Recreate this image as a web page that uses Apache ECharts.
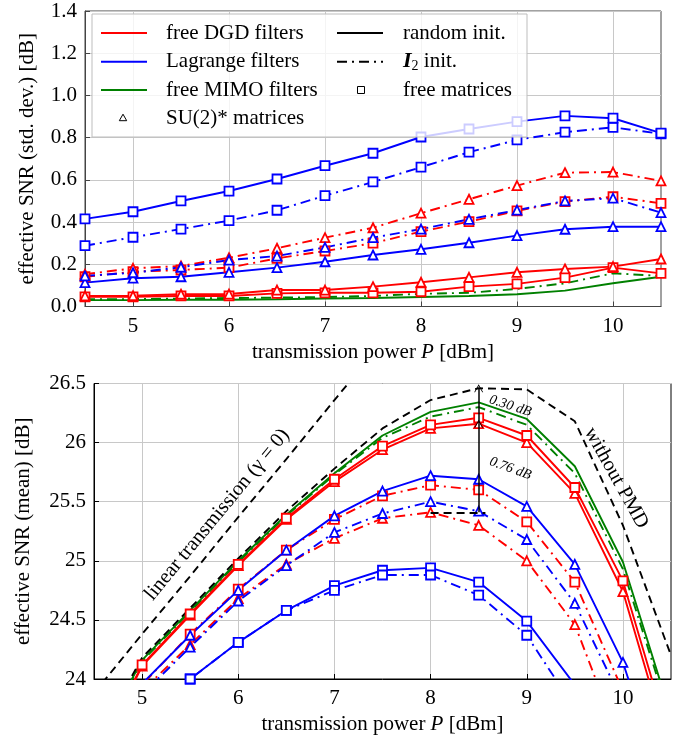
<!DOCTYPE html>
<html><head><meta charset="utf-8">
<script src="https://cdn.jsdelivr.net/npm/echarts@6/dist/echarts.min.js"></script>
<style>html,body{margin:0;padding:0;background:#fff}#c{width:688px;height:739px}</style>
</head><body><div id="c"></div>
<script>
// ---------- data ----------
const powerDbm = [4.5, 5, 5.5, 6, 6.5, 7, 7.5, 8, 8.5, 9, 9.5, 10, 10.5];
const xTickValues = [5, 6, 7, 8, 9, 10];

// upper panel: effective SNR std. dev. [dB]
const sdLagRandFree = [0.415, 0.449, 0.500, 0.547, 0.604, 0.667, 0.726, 0.803, 0.841, 0.876, 0.903, 0.892, 0.821];
const sdLagI2Free   = [0.288, 0.328, 0.367, 0.407, 0.456, 0.525, 0.590, 0.660, 0.731, 0.789, 0.826, 0.849, 0.818];
const sdDgdI2SU2    = [0.153, 0.181, 0.192, 0.231, 0.276, 0.326, 0.373, 0.442, 0.508, 0.573, 0.634, 0.637, 0.595];
const sdLagI2SU2    = [0.145, 0.160, 0.186, 0.220, 0.239, 0.280, 0.326, 0.367, 0.413, 0.457, 0.500, 0.513, 0.445];
const sdDgdI2Free   = [0.141, 0.165, 0.173, 0.184, 0.228, 0.263, 0.300, 0.355, 0.402, 0.453, 0.497, 0.520, 0.489];
const sdLagRandSU2  = [0.113, 0.134, 0.141, 0.162, 0.184, 0.212, 0.244, 0.271, 0.302, 0.336, 0.366, 0.378, 0.378];
const sdDgdRandSU2  = [0.050, 0.051, 0.058, 0.059, 0.078, 0.078, 0.094, 0.115, 0.138, 0.162, 0.178, 0.189, 0.225];
const sdDgdRandFree = [0.046, 0.046, 0.050, 0.050, 0.062, 0.065, 0.065, 0.070, 0.094, 0.107, 0.137, 0.184, 0.157];
const sdMimoRand    = [0.030, 0.030, 0.032, 0.032, 0.034, 0.038, 0.040, 0.045, 0.050, 0.058, 0.075, 0.110, 0.141];
const sdMimoI2      = [0.035, 0.035, 0.038, 0.040, 0.042, 0.045, 0.050, 0.060, 0.065, 0.083, 0.110, 0.157, 0.145];

// lower panel: effective SNR mean [dB]
const mnDgdRandFree = [23.30, 24.12, 24.55, 24.97, 25.36, 25.69, 25.97, 26.15, 26.21, 26.06, 25.62, 24.83, 23.45];
const mnDgdRandSU2  = [23.28, 24.11, 24.54, 24.96, 25.35, 25.67, 25.94, 26.12, 26.16, 26.00, 25.57, 24.74, 23.35];
const mnMimoRand    = [23.40, 24.16, 24.58, 25.00, 25.39, 25.74, 26.06, 26.26, 26.34, 26.20, 25.80, 24.99, 23.69];
const mnMimoI2      = [23.40, 24.15, 24.57, 24.99, 25.38, 25.73, 26.04, 26.22, 26.30, 26.15, 25.74, 24.93, 23.65];
const mnLagRandSU2  = [23.20, 23.96, 24.37, 24.75, 25.09, 25.38, 25.59, 25.72, 25.69, 25.46, 24.97, 24.14, 22.90];
const mnLagI2SU2    = [23.10, 23.87, 24.27, 24.66, 24.96, 25.24, 25.40, 25.50, 25.42, 25.18, 24.64, 23.80, 22.80];
const mnDgdI2SU2    = [23.10, 23.90, 24.29, 24.68, 24.97, 25.19, 25.36, 25.41, 25.30, 25.00, 24.46, 23.40, 22.30];
const mnDgdI2Free   = [23.15, 23.95, 24.38, 24.76, 25.09, 25.35, 25.55, 25.64, 25.60, 25.33, 24.82, 23.90, 22.80];
const mnLagRandFree = [23.30, 23.62, 24.00, 24.31, 24.58, 24.79, 24.92, 24.94, 24.82, 24.49, 23.95, 23.00, 22.00];
const mnLagI2Free   = [23.30, 23.62, 24.00, 24.31, 24.58, 24.75, 24.88, 24.88, 24.71, 24.37, 23.75, 22.90, 21.90];
const mnWithoutPmd  = [23.45, 24.18, 24.60, 25.02, 25.42, 25.78, 26.12, 26.36, 26.46, 26.45, 26.18, 25.30, 24.20];
const mnLinear      = [23.88, 24.38, 24.87, 25.37, 25.86, 26.36, 26.85];

// gap annotation
const gapArrowPower = 8.5;
const gapBasePower = 8;
const gapLevels = [25.41, 26.16, 26.46];

// legend texts
const legendFilters = ['free DGD filters', 'Lagrange filters', 'free MIMO filters', 'SU(2)* matrices'];
const legendInits = ['random init.', '{b|I}{s|2} init.', 'free matrices'];

// ---------- styling ----------
const FONT = "'Liberation Serif','DejaVu Serif',serif";
const FS = 21;
const RED = '#ff0000', BLUE = '#0000ff', GREEN = '#008000', BLACK = '#000000';
const DASHDOT = [10, 5, 2, 5];
const DASHED = [8, 5];

const xy = ys => ys.map((v, i) => [powerDbm[i], v]);

function line(name, gi, ys, color, dash, symbol) {
  return {
    type: 'line', name: name, xAxisIndex: gi, yAxisIndex: gi,
    data: xy(ys), color: color, silent: true, animation: false,
    symbol: symbol || 'none', showSymbol: !!symbol, symbolSize: symbol === 'triangle' ? 9 : 9,
    lineStyle: { color: color, width: 1.9, type: dash || 'solid' },
    itemStyle: { color: '#fff', borderColor: color, borderWidth: 1.8 },
    emphasis: { disabled: true }
  };
}

function xAx(gi, frame) {
  return {
    type: 'value', gridIndex: gi, min: 4.5, max: 10.5,
    name: 'transmission power {i|P} [dBm]', nameLocation: 'middle', nameGap: 35,
    nameTextStyle: { fontFamily: FONT, fontSize: FS, color: '#000',
      rich: { i: { fontStyle: 'italic', fontFamily: FONT, fontSize: FS, color: '#000' } } },
    axisLine: { show: true, onZero: false, lineStyle: { color: frame, width: 1 } },
    axisTick: { show: true, inside: true, length: 5, customValues: xTickValues, lineStyle: { color: frame } },
    axisLabel: { customValues: xTickValues, fontFamily: FONT, fontSize: FS, color: '#000', margin: 9, hideOverlap: false },
    splitLine: { show: true, lineStyle: { color: '#c8c8c8', width: 1 } }
  };
}
function yAx(gi, frame, name, min, max, interval, fmt, gap) {
  return {
    type: 'value', gridIndex: gi, min: min, max: max, interval: interval,
    name: name, nameLocation: 'middle', nameGap: gap,
    nameTextStyle: { fontFamily: FONT, fontSize: FS, color: '#000' },
    axisLine: { show: true, onZero: false, lineStyle: { color: frame, width: 1 } },
    axisTick: { show: true, inside: true, length: 5, lineStyle: { color: frame } },
    axisLabel: { fontFamily: FONT, fontSize: FS, color: '#000', margin: 8, formatter: fmt,
      showMinLabel: true, showMaxLabel: true, hideOverlap: false },
    splitLine: { show: true, lineStyle: { color: '#c8c8c8', width: 1 } }
  };
}

const chevron = 'path://M0,10 L5,0 L10,10 L9,10 L5,2.2 L1,10 Z';

const series = [
  // upper panel
  line('MIMO random', 0, sdMimoRand, GREEN, 'solid'),
  line('MIMO I2', 0, sdMimoI2, GREEN, DASHDOT),
  line('DGD random free', 0, sdDgdRandFree, RED, 'solid', 'rect'),
  line('DGD random SU2', 0, sdDgdRandSU2, RED, 'solid', 'triangle'),
  line('DGD I2 free', 0, sdDgdI2Free, RED, DASHDOT, 'rect'),
  line('DGD I2 SU2', 0, sdDgdI2SU2, RED, DASHDOT, 'triangle'),
  line('Lagrange random SU2', 0, sdLagRandSU2, BLUE, 'solid', 'triangle'),
  line('Lagrange I2 SU2', 0, sdLagI2SU2, BLUE, DASHDOT, 'triangle'),
  line('Lagrange I2 free', 0, sdLagI2Free, BLUE, DASHDOT, 'rect'),
  line('Lagrange random free', 0, sdLagRandFree, BLUE, 'solid', 'rect'),
  // lower panel
  line('linear transmission', 1, mnLinear, BLACK, DASHED),
  line('MIMO random', 1, mnMimoRand, GREEN, 'solid'),
  line('MIMO I2', 1, mnMimoI2, GREEN, DASHDOT),
  line('Lagrange random free', 1, mnLagRandFree, BLUE, 'solid', 'rect'),
  line('Lagrange I2 free', 1, mnLagI2Free, BLUE, DASHDOT, 'rect'),
  line('DGD I2 SU2', 1, mnDgdI2SU2, RED, DASHDOT, 'triangle'),
  line('Lagrange I2 SU2', 1, mnLagI2SU2, BLUE, DASHDOT, 'triangle'),
  line('DGD I2 free', 1, mnDgdI2Free, RED, DASHDOT, 'rect'),
  line('Lagrange random SU2', 1, mnLagRandSU2, BLUE, 'solid', 'triangle'),
  line('DGD random SU2', 1, mnDgdRandSU2, RED, 'solid', 'triangle'),
  line('DGD random free', 1, mnDgdRandFree, RED, 'solid', 'rect'),
  line('without PMD', 1, mnWithoutPmd, BLACK, DASHED)
];
series[series.length - 1].markLine = {
  silent: true, animation: false, symbol: ['none', 'none'], label: { show: false },
  lineStyle: { color: '#000', width: 1.5, type: 'solid' }, emphasis: { disabled: true },
  data: [
    [{ coord: [gapArrowPower, gapLevels[0]], symbol: 'none' },
     { coord: [gapArrowPower, gapLevels[1]], symbol: chevron, symbolSize: [9, 8] }],
    [{ coord: [gapArrowPower, gapLevels[1]], symbol: 'none' },
     { coord: [gapArrowPower, gapLevels[2]], symbol: chevron, symbolSize: [9, 8] }],
    [{ coord: [gapBasePower, gapLevels[0]], symbol: 'none', lineStyle: { type: DASHED, width: 1.8 } },
     { coord: [gapArrowPower + 0.07, gapLevels[0]], symbol: 'none', lineStyle: { type: DASHED, width: 1.8 } }]
  ]
};

const option = {
  animation: false,
  backgroundColor: '#fff',
  grid: [
    { left: 85, top: 11, width: 576, height: 295.5, show: true, borderColor: '#444', borderWidth: 1,
      containLabel: false, outerBoundsMode: 'none' },
    { left: 94, top: 383.5, width: 577, height: 295.5, show: true, borderColor: '#000', borderWidth: 1,
      containLabel: false, outerBoundsMode: 'none' }
  ],
  xAxis: [xAx(0, '#444'), xAx(1, '#000')],
  yAxis: [
    yAx(0, '#444', 'effective SNR (std. dev.) [dB]', 0, 1.4, 0.2, v => v.toFixed(1), 47),
    yAx(1, '#000', 'effective SNR (mean) [dB]', 24, 26.5, 0.5, v => String(+v.toFixed(1)), 60)
  ],
  series: series
};

const chart = echarts.init(document.getElementById('c'), null, { renderer: 'canvas' });
chart.setOption(option);

// ---------- legend (upper panel) ----------
const L = { x: 92, y: 14, w: 435, h: 123, rows: [33, 61.7, 90, 118], l1: [101, 147], t1: 166, l2: [337, 383], t2: 403 };
const Z = 100;
const txt = (x, y, text) => ({ type: 'text', x: x, y: y, z: Z, silent: true,
  style: { text: text, fontFamily: FONT, fontSize: FS, fill: '#000', align: 'left', verticalAlign: 'middle',
    rich: { b: { fontFamily: FONT, fontSize: 22, fontWeight: 'bold', fontStyle: 'italic', fill: '#000' },
            s: { fontFamily: FONT, fontSize: 14, fill: '#000', padding: [9, 0, 0, 0] } } } });
const seg = (x1, x2, y, color, dash) => ({ type: 'line', z: Z, silent: true,
  shape: { x1: x1, y1: y, x2: x2, y2: y }, style: { stroke: color, lineWidth: 2, lineDash: dash || null } });

const graphics = [
  { type: 'rect', z: Z - 1, silent: true, shape: { x: L.x, y: L.y, width: L.w, height: L.h },
    style: { fill: 'rgba(255,255,255,0.8)', stroke: '#bdbdbd', lineWidth: 1 } },
  seg(L.l1[0], L.l1[1], L.rows[0], RED),
  seg(L.l1[0], L.l1[1], L.rows[1], BLUE),
  seg(L.l1[0], L.l1[1], L.rows[2], GREEN),
  { type: 'polygon', z: Z, silent: true,
    shape: { points: [[123, L.rows[3] - 3.8], [119.3, L.rows[3] + 2.7], [126.7, L.rows[3] + 2.7]] },
    style: { fill: '#fff', stroke: '#000', lineWidth: 1 } },
  seg(L.l2[0], L.l2[1], L.rows[0], BLACK),
  seg(L.l2[0], L.l2[1], L.rows[1], BLACK, DASHDOT),
  { type: 'rect', z: Z, silent: true, shape: { x: 357.5, y: L.rows[2] - 3.5, width: 7, height: 7 },
    style: { fill: '#fff', stroke: '#000', lineWidth: 1 } }
];
legendFilters.forEach((t, i) => graphics.push(txt(L.t1, L.rows[i], t)));
legendInits.forEach((t, i) => graphics.push(txt(L.t2, L.rows[i], t)));

// ---------- annotations (lower panel), anchored in data coordinates ----------
const annotations = [
  { text: 'linear transmission (\u03b3 = 0)', at: [5.78, 25.39], deg: 50.5, size: 20.5, italic: false },
  { text: 'without PMD', at: [9.93, 25.70], deg: -61, size: 20.5, italic: false },
  { text: '0.30 dB', at: [8.83, 26.31], deg: -18, size: 14, italic: true },
  { text: '0.76 dB', at: [8.83, 25.78], deg: -20, size: 14, italic: true }
];
annotations.forEach(a => {
  const p = chart.convertToPixel({ gridIndex: 1 }, a.at);
  graphics.push({ type: 'text', x: p[0], y: p[1], rotation: a.deg * Math.PI / 180, z: Z, silent: true,
    style: { text: a.text, fontFamily: FONT, fontSize: a.size, fontStyle: a.italic ? 'italic' : 'normal',
      fill: '#000', align: 'center', verticalAlign: 'middle' } });
});
chart.setOption({ graphic: { elements: graphics } });
</script>
</body></html>
